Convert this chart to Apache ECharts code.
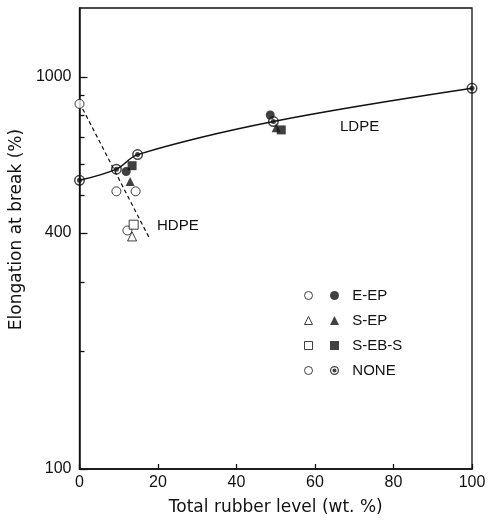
<!DOCTYPE html>
<html>
<head>
<meta charset="utf-8">
<script src="https://cdn.jsdelivr.net/npm/echarts@6/dist/echarts.min.js"></script>
<style>html,body{margin:0;padding:0;background:#fff;}#c{width:489px;height:521px;}</style>
</head>
<body>
<div id="c"></div>
<script>
// ---- data (x: total rubber level wt.%, y: elongation at break %) ----
const xTicks = [0, 20, 40, 60, 80, 100];
const yLabelValues = [100, 400, 1000];
const yMinorTicks = [200, 300, 500, 600, 700, 800, 900];
const legendNames = ['E-EP', 'S-EP', 'S-EB-S', 'NONE'];

// LDPE blends (filled symbols)
const ldpeEEP = [[11.9, 574], [48.6, 800]];
const ldpeSEP = [[12.9, 541], [50.1, 742]];
const ldpeSEBS = [[13.4, 594], [51.4, 733]];
const ldpeNone = [[0, 545], [9.4, 582], [14.8, 634], [49.4, 770], [100, 936]];

// HDPE blends (open symbols)
const hdpeEEP = [[12.2, 406]];
const hdpeSEP = [[13.4, 392]];
const hdpeSEBS = [[13.8, 420]];
const hdpeNone = [[0, 854], [9.4, 511], [14.3, 511]];

// dashed HDPE trend line end points
const hdpeTrend = [[0, 860], [17.7, 390]];

const ringDot = 'path://M0,-10A10,10 0 1,1 0,10A10,10 0 1,1 0,-10ZM0,-7.3A7.3,7.3 0 1,0 0,7.3A7.3,7.3 0 1,0 0,-7.3ZM0,-4.6A4.6,4.6 0 1,1 0,4.6A4.6,4.6 0 1,1 0,-4.6Z';

const chart = echarts.init(document.getElementById('c'));
const FONT = 'Liberation Sans, Arial, Helvetica, sans-serif';
const TITLEFONT = 'DejaVu Sans, Liberation Sans, sans-serif';
const black = '#111';

function openSeries(name, symbol, data, size) {
  return {
    name, type: 'scatter', data, symbol, symbolSize: size,
    itemStyle: { color: '#fff', borderColor: black, borderWidth: 1 },
    z: 4
  };
}
function filledSeries(name, symbol, data, size) {
  return {
    name, type: 'scatter', data, symbol, symbolSize: size,
    itemStyle: { color: black },
    z: 5
  };
}

const legendCommon = {
  orient: 'vertical', itemWidth: 9, itemHeight: 9, itemGap: 10,
  selectedMode: false, textStyle: { fontFamily: FONT, fontSize: 15, color: black }
};

chart.setOption({
  animation: false,
  backgroundColor: '#fff',
  grid: { left: 77, right: 17, top: 8, bottom: 51, show: true, borderColor: black, borderWidth: 1.3, backgroundColor: 'transparent' },
  xAxis: {
    type: 'value', min: 0, max: 100, interval: 20,
    name: 'Total rubber level (wt. %)', nameLocation: 'middle', nameGap: 30,
    nameTextStyle: { fontFamily: TITLEFONT, fontSize: 17, color: black },
    axisLine: { show: true, lineStyle: { color: black, width: 1.5 } },
    axisTick: { show: true, inside: true, length: 5, lineStyle: { color: black, width: 1.3 } },
    axisLabel: { fontFamily: FONT, fontSize: 16, color: black, margin: 6 },
    splitLine: { show: false }
  },
  yAxis: [{
    type: 'log', logBase: 10, min: 100, max: 1500,
    name: 'Elongation at break (%)', nameLocation: 'middle', nameGap: 46, nameRotate: 90,
    nameTextStyle: { fontFamily: TITLEFONT, fontSize: 17, color: black, padding: [0, 0, 0, 18] },
    axisLine: { show: true, lineStyle: { color: black, width: 1.5 } },
    axisTick: { show: true, inside: true, length: 8, customValues: yLabelValues, lineStyle: { color: black, width: 1.3 } },
    axisLabel: { fontFamily: FONT, fontSize: 16, color: black, margin: 8, customValues: yLabelValues,
      formatter: v => String(Math.round(v)) },
    splitLine: { show: false }, minorTick: { show: false }
  }, {
    type: 'log', logBase: 10, min: 100, max: 1500, position: 'left', offset: 0,
    axisLine: { show: false },
    axisTick: { show: true, inside: true, length: 5, customValues: yMinorTicks, lineStyle: { color: black, width: 1.3 } },
    axisLabel: { show: false },
    splitLine: { show: false }
  }],
  legend: [
    Object.assign({}, legendCommon, {
      left: 299, top: 283, itemWidth: 8, itemHeight: 8,
      itemStyle: { borderWidth: 1, borderColor: black, color: '#fff' },
      data: ['HDPE E-EP', 'HDPE S-EP', 'HDPE S-EB-S', 'HDPE NONE'],
      formatter: () => ' '
    }),
    Object.assign({}, legendCommon, {
      left: 325, top: 283,
      data: legendNames,
      formatter: n => '  ' + n
    })
  ],
  graphic: [
    { type: 'text', left: 157, top: 218, style: { text: 'HDPE', font: '15px ' + FONT, fill: black } },
    { type: 'text', left: 340, top: 119, style: { text: 'LDPE', font: '15px ' + FONT, fill: black } }
  ],
  series: [
    { name: 'LDPE curve', type: 'line', data: ldpeNone, smooth: 0.35, symbol: 'none',
      lineStyle: { color: black, width: 1.5 }, z: 2 },
    { name: 'HDPE trend', type: 'line', data: hdpeTrend, symbol: 'none',
      lineStyle: { color: black, width: 1.2, type: [4, 3] }, z: 2 },
    openSeries('HDPE E-EP', 'circle', hdpeEEP, 9),
    openSeries('HDPE S-EP', 'triangle', hdpeSEP, 9),
    openSeries('HDPE S-EB-S', 'rect', hdpeSEBS, 9),
    openSeries('HDPE NONE', 'circle', hdpeNone, 9),
    filledSeries('E-EP', 'circle', ldpeEEP, 9),
    filledSeries('S-EP', 'triangle', ldpeSEP, 9),
    filledSeries('S-EB-S', 'rect', ldpeSEBS, 9),
    { name: 'NONE', type: 'scatter', data: ldpeNone, symbol: ringDot, symbolSize: 11,
      itemStyle: { color: black }, z: 6 }
  ]
});
</script>
</body>
</html>
